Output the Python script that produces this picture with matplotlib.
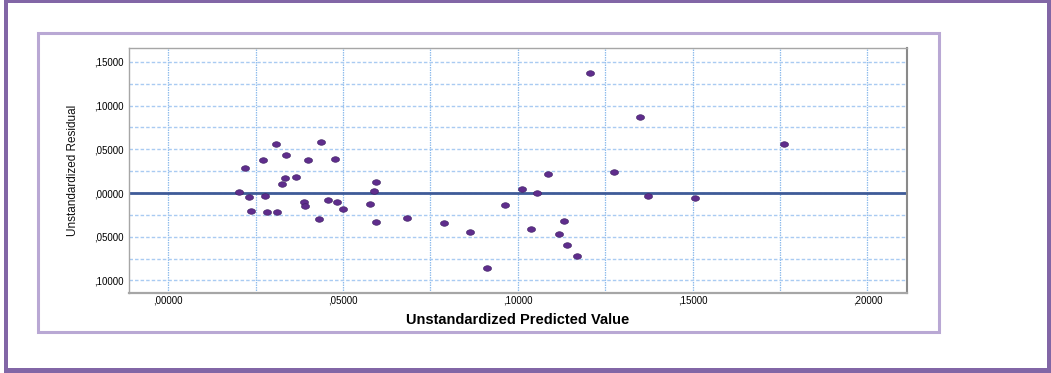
"""
Residual plot: unstandardized residual vs unstandardized predicted value
(SPSS-style scatter with a reference line at zero).
"""

import matplotlib
matplotlib.use("Agg")
import matplotlib.pyplot as plt
import numpy as np
from matplotlib.patches import Rectangle

# --- data ------------------------------------------------------------------
pred_values = [
    0.0203, 0.0220, 0.0231, 0.0236, 0.0270, 0.0277, 0.0282, 0.0307, 0.0312,
    0.0326, 0.0335, 0.0337, 0.0366, 0.0389, 0.0390, 0.0399, 0.0430, 0.0436,
    0.0456, 0.0477, 0.0484, 0.0499, 0.0577, 0.0590, 0.0595, 0.0594, 0.0684,
    0.0789, 0.0863, 0.0912, 0.0964, 0.1011, 0.1039, 0.1054, 0.1087, 0.1117,
    0.1132, 0.1141, 0.1170, 0.1206, 0.1274, 0.1350, 0.1372, 0.1508, 0.1761,
]
residuals = [
    0.0015, 0.0290, -0.0042, -0.0210, 0.0378, -0.0034, -0.0214, 0.0557, -0.0217,
    0.0099, 0.0172, 0.0435, 0.0183, -0.0099, -0.0145, 0.0378, -0.0294, 0.0580,
    -0.0084, 0.0386, -0.0107, -0.0183, -0.0130, 0.0023, 0.0126, -0.0328, -0.0290,
    -0.0343, -0.0446, -0.0855, -0.0134, 0.0042, -0.0412, 0.0000, 0.0217, -0.0473,
    -0.0317, -0.0595, -0.0725, 0.1370, 0.0237, 0.0870, -0.0031, -0.0061, 0.0557,
]

x_ticks = [0.00, 0.05, 0.10, 0.15, 0.20]
x_tick_labels = [",00000", ",05000", ",10000", ",15000", ",20000"]
y_ticks = [0.15, 0.10, 0.05, 0.00, -0.05, -0.10]
# SPSS export dropped the minus signs, keep them as shown
y_tick_labels = [",15000", ",10000", ",05000", ",00000", ",05000", ",10000"]

x_label = "Unstandardized Predicted Value"
y_label = "Unstandardized Residual"

W, H = 1051, 373
fig = plt.figure(figsize=(W / 100, H / 100), dpi=100)
fig.patch.set_facecolor("white")


def px_rect(x0, y0, x1, y1):
    """pixel box (top-left origin) -> figure fraction rect"""
    return [x0 / W, 1 - y1 / H, (x1 - x0) / W, (y1 - y0) / H]


def band(x0, y0, x1, y1, color):
    fig.patches.append(Rectangle(px_rect(x0, y0, x1, y1)[:2],
                                 (x1 - x0) / W, (y1 - y0) / H,
                                 transform=fig.transFigure, facecolor=color,
                                 edgecolor="none", zorder=0))


# outer purple frame (uneven thickness like the screenshot)
outer = "#8266a6"
band(4, 0, 1051, 3, outer)
band(4, 0, 8, 373, outer)
band(1047, 0, 1051, 373, outer)
band(4, 368, 1051, 373, outer)

# inner light-purple panel
fig.patches.append(Rectangle((38 / W, 1 - 332 / H), (939 - 38) / W, (332 - 33) / H,
                             transform=fig.transFigure, fill=False,
                             edgecolor="#b9a8d4", linewidth=2.2))

ax = fig.add_axes(px_rect(129, 48, 907, 293))
ax.set_xlim(-0.0112, 0.2113)
ax.set_ylim(-0.1144, 0.1659)

# grids: major + half-step minor lines, all dotted light blue
for xv in np.arange(0, 0.2001, 0.025):
    ax.axvline(xv, color="#8fbcec", lw=0.9, ls=(0, (1.2, 0.8)), zorder=1)
for yv in np.arange(-0.10, 0.1501, 0.025):
    ax.axhline(yv, color="#a9cbf2", lw=1.0, ls=(0, (2.5, 1.5)), zorder=1)

ax.axhline(0, color="#3f5b98", lw=2.0, zorder=2)

t = np.linspace(0, 2 * np.pi, 40)
ellipse = np.column_stack([1.45 * np.cos(t), np.sin(t)])
ax.scatter(pred_values, residuals, marker=ellipse, s=34,
           facecolor="#5f2d8c", edgecolor="#3c2060", linewidth=0.4, zorder=3)

ax.set_xticks(x_ticks)
ax.set_xticklabels(x_tick_labels)
ax.set_yticks(y_ticks)
ax.set_yticklabels(y_tick_labels)
ax.tick_params(length=0, labelsize=7)
ax.tick_params(axis="x", pad=2)
ax.tick_params(axis="y", pad=4)
for lab in ax.get_xticklabels() + ax.get_yticklabels():
    lab.set_family(["Liberation Sans", "DejaVu Sans"])

for side in ["left", "bottom", "top"]:
    ax.spines[side].set_color("#a6a6a6")
    ax.spines[side].set_linewidth(1.0)
ax.spines["right"].set_color("#8a8a8a")
ax.spines["right"].set_linewidth(1.5)
ax.spines["bottom"].set_linewidth(1.6)

ax.set_xlabel(x_label, fontsize=10.5, fontweight="bold",
              family=["Liberation Sans", "DejaVu Sans"], labelpad=5)
ax.set_ylabel(y_label, fontsize=8.5, color="#111111",
              family=["Liberation Sans", "DejaVu Sans"], labelpad=11)

fig.savefig("out.png", dpi=100)
